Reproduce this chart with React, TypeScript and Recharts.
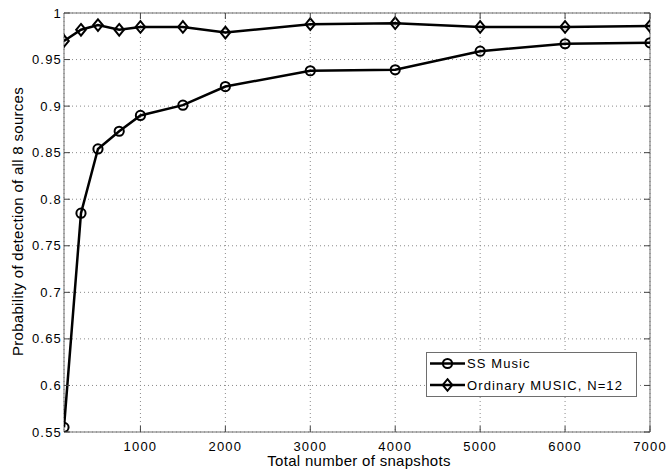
import React from 'react';
import {
  LineChart,
  Line,
  XAxis,
  YAxis,
  CartesianGrid,
  ReferenceArea,
  Legend,
  Label,
} from 'recharts';

// ---- Data ----
const snapshots = [100, 300, 500, 750, 1000, 1500, 2000, 3000, 4000, 5000, 6000, 7000];
const ssMusic = [0.555, 0.785, 0.854, 0.873, 0.89, 0.901, 0.921, 0.938, 0.939, 0.959, 0.967, 0.968];
const ordinaryMusic = [0.97, 0.982, 0.987, 0.982, 0.985, 0.985, 0.979, 0.988, 0.989, 0.985, 0.985, 0.986];
const xTicks = [1000, 2000, 3000, 4000, 5000, 6000, 7000];
const yTicks = [0.55, 0.6, 0.65, 0.7, 0.75, 0.8, 0.85, 0.9, 0.95, 1];
const seriesOrder = ['ss', 'ord'];
const seriesNames: Record<string, string> = { ss: 'SS Music', ord: 'Ordinary MUSIC, N=12' };
const xLabel = 'Total number of snapshots';
const yLabel = 'Probability of detection of all 8 sources';

const data = snapshots.map((s, i) => ({ x: s, ss: ssMusic[i], ord: ordinaryMusic[i] }));

// ---- Layout / style ----
const W = 670;
const H = 472;
const X_AXIS_H = 40;
const Y_AXIS_W = 64;
const MARGIN = { top: 13, right: 20, bottom: 0, left: 0 };
const PLOT_TOP = MARGIN.top;
const PLOT_BOTTOM = H - X_AXIS_H;
const PLOT_LEFT = Y_AXIS_W;
const PLOT_RIGHT = W - MARGIN.right;
const FONT = '"Liberation Sans", Arial, Helvetica, sans-serif';
const TICK_COLOR = '#444';
const BOX_COLOR = '#6e6e6e';
const GRID_COLOR = '#8a8a8a';

const fmtY = (v: number) => String(Number(v.toFixed(2)));

const XTick = (props: any) => {
  const { x, payload } = props;
  return (
    <g>
      <line x1={x} x2={x} y1={PLOT_BOTTOM} y2={PLOT_BOTTOM - 6} stroke={TICK_COLOR} strokeWidth={1} />
      <line x1={x} x2={x} y1={PLOT_TOP} y2={PLOT_TOP + 6} stroke={TICK_COLOR} strokeWidth={1} />
      <text
        x={x}
        y={PLOT_BOTTOM + 18.5}
        textAnchor="middle"
        fontFamily={FONT}
        fontSize={13}
        letterSpacing={1.2}
        fill="#000"
      >
        {payload.value}
      </text>
    </g>
  );
};

const YTick = (props: any) => {
  const { y, payload } = props;
  return (
    <g>
      <line x1={PLOT_LEFT} x2={PLOT_LEFT + 6} y1={y} y2={y} stroke={TICK_COLOR} strokeWidth={1} />
      <line x1={PLOT_RIGHT} x2={PLOT_RIGHT - 6} y1={y} y2={y} stroke={TICK_COLOR} strokeWidth={1} />
      <text
        x={PLOT_LEFT - 2}
        y={y + 4.6}
        textAnchor="end"
        fontFamily={FONT}
        fontSize={13}
        letterSpacing={1.2}
        fill="#000"
      >
        {fmtY(payload.value)}
      </text>
    </g>
  );
};

const CircleMarker = ({ cx, cy }: { cx: number; cy: number }) => (
  <circle cx={cx} cy={cy} r={4.6} fill="none" stroke="#000" strokeWidth={2} />
);

const DiamondMarker = ({ cx, cy }: { cx: number; cy: number }) => (
  <polygon
    points={`${cx},${cy - 5.8} ${cx + 4.8},${cy} ${cx},${cy + 5.8} ${cx - 4.8},${cy}`}
    fill="none"
    stroke="#000"
    strokeWidth={2}
  />
);

const renderDot = (Marker: any) => (props: any) => {
  const { cx, cy, index } = props;
  if (cx == null || cy == null) return <g key={index} />;
  return <Marker key={index} cx={cx} cy={cy} />;
};

const markerFor: Record<string, any> = { ss: CircleMarker, ord: DiamondMarker };

const LegendBox = (props: any) => {
  const payload = [...(props.payload || [])].sort(
    (a: any, b: any) => seriesOrder.indexOf(a.dataKey) - seriesOrder.indexOf(b.dataKey)
  );
  return (
    <svg width={211} height={45} style={{ display: 'block' }}>
      <rect x={0.5} y={0.5} width={210} height={44} fill="#fff" stroke={BOX_COLOR} strokeWidth={1} />
      {payload.map((entry: any, i: number) => {
        const cy = i === 0 ? 11.5 : 33;
        const Marker = markerFor[entry.dataKey as string] || CircleMarker;
        return (
          <g key={i}>
            <line x1={4} x2={39} y1={cy} y2={cy} stroke="#000" strokeWidth={2.5} />
            <Marker cx={21.5} cy={cy} />
            <text x={41} y={cy + 4.5} fontFamily={FONT} fontSize={13} letterSpacing={1.1} fill="#000">
              {entry.value}
            </text>
          </g>
        );
      })}
    </svg>
  );
};

export default function App() {
  return (
    <div style={{ position: 'absolute', left: 0, top: 0, width: W, height: H, background: '#fff' }}>
      <LineChart width={W} height={H} data={data} margin={MARGIN}>
        <CartesianGrid stroke={GRID_COLOR} strokeDasharray="1 3" strokeWidth={1} />
        <XAxis
          dataKey="x"
          type="number"
          domain={[100, 7000]}
          ticks={xTicks}
          interval={0}
          height={X_AXIS_H}
          axisLine={false}
          tickLine={false}
          tick={<XTick />}
          allowDataOverflow
        >
          <Label
            content={() => (
              <text
                x={359}
                y={466}
                textAnchor="middle"
                fontFamily={FONT}
                fontSize={15}
                letterSpacing={0.3}
                fill="#000"
              >
                {xLabel}
              </text>
            )}
          />
        </XAxis>
        <YAxis
          type="number"
          domain={[0.55, 1]}
          ticks={yTicks}
          interval={0}
          width={Y_AXIS_W}
          axisLine={false}
          tickLine={false}
          tick={<YTick />}
          allowDataOverflow
        >
          <Label
            content={() => (
              <text
                x={23}
                y={221.5}
                transform="rotate(-90 23 221.5)"
                textAnchor="middle"
                fontFamily={FONT}
                fontSize={15}
                letterSpacing={0.3}
                fill="#000"
              >
                {yLabel}
              </text>
            )}
          />
        </YAxis>
        <ReferenceArea
          x1={100}
          x2={7000}
          y1={0.55}
          y2={1}
          fill="none"
          fillOpacity={0}
          stroke={BOX_COLOR}
          strokeWidth={1}
          ifOverflow="visible"
        />
        <Line
          type="linear"
          dataKey="ss"
          name={seriesNames.ss}
          stroke="#000"
          strokeWidth={2.5}
          dot={renderDot(CircleMarker)}
          activeDot={false}
          isAnimationActive={false}
        />
        <Line
          type="linear"
          dataKey="ord"
          name={seriesNames.ord}
          stroke="#000"
          strokeWidth={2.5}
          dot={renderDot(DiamondMarker)}
          activeDot={false}
          isAnimationActive={false}
        />
        <Legend
          layout="horizontal"
          verticalAlign="middle"
          align="center"
          content={<LegendBox />}
          wrapperStyle={{ left: 426, top: 352, width: 211, height: 45 }}
        />
      </LineChart>
    </div>
  );
}
